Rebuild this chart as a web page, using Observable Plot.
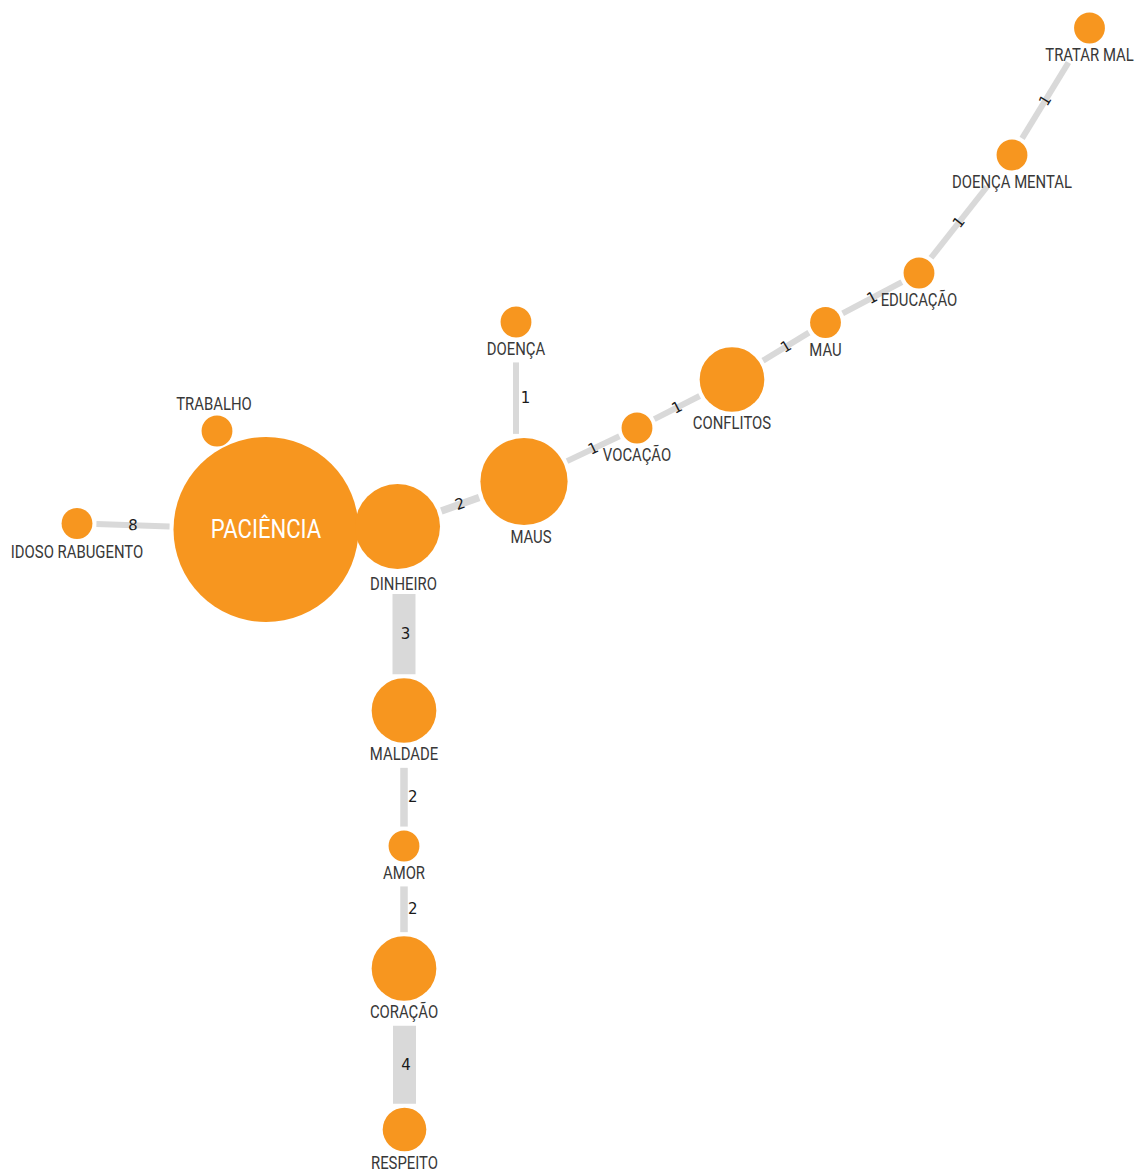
<!DOCTYPE html>
<html>
<head>
<meta charset="utf-8">
<script src="https://cdn.jsdelivr.net/npm/d3@7"></script>
<script src="https://cdn.jsdelivr.net/npm/@observablehq/plot@0.6"></script>
<style>
  html, body { margin: 0; padding: 0; background: #fff; }
  #chart svg { display: block; }
</style>
</head>
<body>
<div id="chart"></div>
<script>
// ---- Data ----
// node names, layout coordinates (in the drawing's own units) and node weight
const nodeNames = ["PACIÊNCIA", "DINHEIRO", "MAUS", "CONFLITOS", "MALDADE", "CORAÇÃO", "RESPEITO",
  "TRABALHO", "IDOSO RABUGENTO", "DOENÇA", "VOCAÇÃO", "MAU", "EDUCAÇÃO", "DOENÇA MENTAL", "TRATAR MAL", "AMOR"];
const nodeX = [265.5, 397, 523.5, 731.5, 403.5, 403.5, 404, 216.5, 76.5, 515.5, 636.5, 825, 918.5, 1011.5, 1089, 403.5];
const nodeY = [529, 526, 481, 379, 710, 968, 1129, 430.5, 523, 321.5, 427.5, 322, 272.5, 154.5, 27.5, 845.5];
const nodeWeight = [36, 7.6, 8, 4.4, 4.4, 4.4, 2, 1, 1, 1, 1, 1, 1, 1, 1, 1];

// links: source, target, label value, link strength
const linkSource = ["IDOSO RABUGENTO", "DINHEIRO", "DINHEIRO", "MALDADE", "AMOR", "CORAÇÃO",
  "DOENÇA", "MAUS", "VOCAÇÃO", "CONFLITOS", "MAU", "EDUCAÇÃO", "DOENÇA MENTAL"];
const linkTarget = ["PACIÊNCIA", "MAUS", "MALDADE", "AMOR", "CORAÇÃO", "RESPEITO",
  "MAUS", "VOCAÇÃO", "CONFLITOS", "MAU", "EDUCAÇÃO", "DOENÇA MENTAL", "TRATAR MAL"];
const linkValue = [8, 2, 3, 2, 2, 4, 1, 1, 1, 1, 1, 1, 1];
const linkStrength = [1, 1.3, 4.4, 1.3, 1.3, 4.4, 1, 1, 1, 1, 1, 1, 1];

// ---- Build tables ----
const W = 1137, H = 1171;
const rScale = d3.scaleSqrt().domain([0, 36]).range([0, 92.5]);
const nodes = nodeNames.map((name, i) => ({name, x: nodeX[i], y: nodeY[i], weight: nodeWeight[i], r: rScale(nodeWeight[i])}));
const byName = new Map(nodes.map(n => [n.name, n]));

const widthOf = s => 5 * s + 1;
const links = [];
linkSource.forEach((s, i) => {
  const a = byName.get(s), b = byName.get(linkTarget[i]);
  let ax = a.x, bx = b.x;
  let dx = bx - ax, dy = b.y - a.y;
  const nearVertical = Math.abs(dx) / Math.hypot(dx, dy) < 0.1;
  if (nearVertical) { const sx = a.r <= b.r ? a.x : b.x; ax = bx = sx; dx = 0; }
  const len = Math.hypot(dx, dy);
  const ux = dx / len, uy = dy / len;
  const trimA = a.r + (uy > 0.6 ? 25 : 4);   // leave room for the label lying below a node
  const trimB = b.r + (-uy > 0.6 ? 25 : 4);
  const x1 = ax + ux * trimA, y1 = a.y + uy * trimA;
  const x2 = bx - ux * trimB, y2 = b.y - uy * trimB;
  const w = widthOf(linkStrength[i]);
  let ang = Math.atan2(y2 - y1, x2 - x1) * 180 / Math.PI;
  if (ang > 90) ang -= 180;
  if (ang < -90) ang += 180;
  links.push({
    x1, y1, x2, y2, w, value: linkValue[i],
    lx: (x1 + x2) / 2 + (nearVertical ? Math.max(1.5, 12.5 - w / 2) : 0),
    ly: (y1 + y2) / 2,
    rot: nearVertical ? 0 : ang
  });
});

const labelAbove = new Set(["TRABALHO"]);
const labelShift = new Map([["MAUS", 7], ["DINHEIRO", 6], ["TRABALHO", -3]]);
const labelDrop = new Map([["DINHEIRO", 3], ["IDOSO RABUGENTO", 1.5]]);
const outerLabels = nodes.filter(n => n.name !== "PACIÊNCIA").map(n => ({
  name: n.name,
  x: n.x + (labelShift.get(n.name) || 0),
  y: labelAbove.has(n.name) ? n.y - n.r - 11 : n.y + n.r + 12 + (labelDrop.get(n.name) || 0)
}));
const innerLabels = nodes.filter(n => n.name === "PACIÊNCIA");

const labelFont = "Roboto, 'Noto Sans', sans-serif";

const chart = Plot.plot({
  width: W,
  height: H,
  margin: 0,
  x: {domain: [0, W], range: [0, W], axis: null},
  y: {domain: [0, H], range: [0, H], axis: null},
  r: {type: "sqrt", domain: [0, 36], range: [0, 92.5]},
  marks: [
    Plot.link(links, {x1: "x1", y1: "y1", x2: "x2", y2: "y2", stroke: "#d9d9d9", strokeWidth: "w", strokeLinecap: "butt"}),
    Plot.text(links, {x: "lx", y: "ly", text: d => String(d.value), rotate: "rot", fill: "#1a1a1a",
      fontSize: 15, fontFamily: "'DejaVu Sans', sans-serif"}),
    Plot.dot(nodes, {x: "x", y: "y", r: "weight", fill: "#F7961F", stroke: null}),
    Plot.text(outerLabels, {x: "x", y: "y", text: "name", fill: "#383838", fontSize: 17.5, fontFamily: labelFont}),
    Plot.text(innerLabels, {x: "x", y: "y", text: "name", fill: "#ffffff", fontSize: 26, fontFamily: labelFont})
  ]
});
document.getElementById("chart").appendChild(chart);

// condensed look for the node labels (the reference uses a condensed face)
const textGroups = chart.querySelectorAll('g[aria-label="text"]');
[textGroups[1], textGroups[2]].forEach(g => {
  if (!g) return;
  g.querySelectorAll("text").forEach(t => {
    const tr = t.getAttribute("transform");
    if (tr) {
      t.setAttribute("transform", tr + " scale(0.85,1)");
    } else {
      const x = t.getAttribute("x") || 0, y = t.getAttribute("y") || 0;
      t.removeAttribute("x"); t.removeAttribute("y");
      t.setAttribute("transform", `translate(${x},${y}) scale(0.85,1)`);
    }
  });
});
</script>
</body>
</html>
